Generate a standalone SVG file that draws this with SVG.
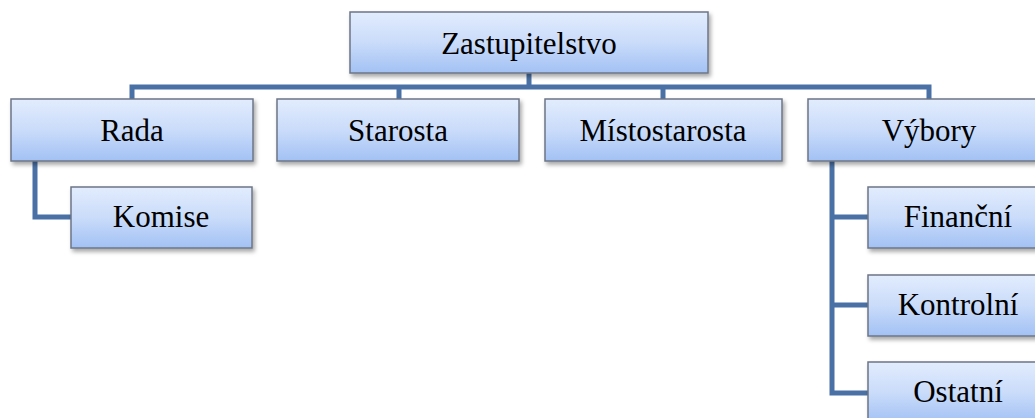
<svg xmlns="http://www.w3.org/2000/svg" width="1035" height="418" viewBox="0 0 1035 418">
<defs>
<linearGradient id="g" x1="0" y1="0" x2="0" y2="1">
<stop offset="0" stop-color="#e2ecfd"/>
<stop offset="0.5" stop-color="#cadcfa"/>
<stop offset="1" stop-color="#a2c1f4"/>
</linearGradient>
<filter id="sh" x="-10%" y="-20%" width="120%" height="150%">
<feDropShadow dx="2" dy="3" stdDeviation="2" flood-color="#000" flood-opacity="0.35"/>
</filter>
</defs>
<style>
.box{fill:url(#g);stroke:#6d7686;stroke-width:1.5;filter:url(#sh)}
text{font-family:'Liberation Serif','Times New Roman',serif;font-size:31px;fill:#000;text-anchor:middle}
.con{fill:none;stroke:#4a71a5;stroke-width:5;stroke-linejoin:miter}
</style>
<rect width="1035" height="418" fill="#fff"/>
<g id="connectors">
<path class="con" d="M529,73 V87"/>
<path class="con" d="M132,100 V87 H929 V100"/>
<path class="con" d="M399,87 V100"/>
<path class="con" d="M663,87 V100"/>
<path class="con" d="M35,161 V217 H72"/>
<path class="con" d="M832,161 V393 H869"/>
<path class="con" d="M832,217 H869"/>
<path class="con" d="M832,305 H869"/>
</g>
<g id="zastupitelstvo"><rect class="box" x="350" y="12" width="358" height="61"/><text x="529" y="54">Zastupitelstvo</text></g>
<g id="rada"><rect class="box" x="11" y="99" width="242" height="62"/><text x="132" y="141">Rada</text></g>
<g id="starosta"><rect class="box" x="277" y="99" width="242" height="62"/><text x="398" y="141">Starosta</text></g>
<g id="mistostarosta"><rect class="box" x="545" y="99" width="237" height="62"/><text x="663" y="141">Místostarosta</text></g>
<g id="vybory"><rect class="box" x="808" y="99" width="242" height="62"/><text x="929" y="141">Výbory</text></g>
<g id="komise"><rect class="box" x="71" y="187" width="181" height="61"/><text x="161" y="227">Komise</text></g>
<g id="financni"><rect class="box" x="868" y="187" width="181" height="61"/><text x="958" y="227">Finanční</text></g>
<g id="kontrolni"><rect class="box" x="868" y="275" width="181" height="61"/><text x="958" y="315">Kontrolní</text></g>
<g id="ostatni"><rect class="box" x="868" y="362" width="181" height="61"/><text x="958" y="402">Ostatní</text></g>
</svg>
